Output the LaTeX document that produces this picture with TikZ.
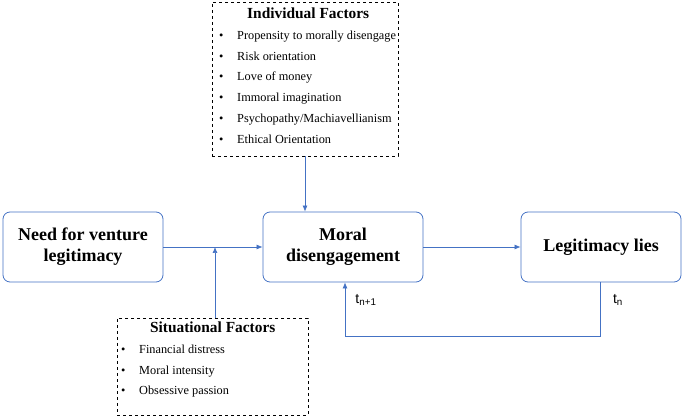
\documentclass[tikz,border=0pt]{standalone}
\usepackage{fontspec}
\setmainfont{Liberation Serif}
\newfontfamily\tfont{Liberation Sans}
\usetikzlibrary{arrows.meta}
\definecolor{bl}{RGB}{68,114,196}
\newcommand{\itm}{\makebox[18pt][l]{\textbullet}}
\begin{document}
\begin{tikzpicture}[x=1pt,y=-1pt,
  mbox/.style={draw=bl,rounded corners=7pt,minimum width=160pt,minimum height=70pt,align=center,font=\fontsize{18}{21}\selectfont\bfseries,line width=0.8pt},
  fbox/.style={draw,dashed,align=left,font=\fontsize{12.3}{20.7}\selectfont,inner sep=4pt},
  arr/.style={draw=bl,line width=0.7pt,-{Latex[length=6pt,width=5pt]}}]
\useasboundingbox (0,0) rectangle (685,419);
\node[mbox] (need) at (83,247) {Need for venture\\legitimacy};
\node[mbox] (moral) at (343,247) {Moral\\disengagement};
\node[mbox] (lies) at (601,247) {Legitimacy lies};
\node[draw,dashed,minimum width=186pt,minimum height=154pt] (ind) at (305,79) {};
\node[anchor=north west,fbox,draw=none] at (215,4) {\makebox[178pt]{\fontsize{15.4}{17}\selectfont\bfseries Individual Factors}\\
\itm Propensity to morally disengage\\
\itm Risk orientation\\
\itm Love of money\\
\itm Immoral imagination\\
\itm Psychopathy/Machiavellianism\\
\itm Ethical Orientation};
\node[draw,dashed,minimum width=191pt,minimum height=97pt] (sit) at (212.5,366.5) {};
\node[anchor=north west,fbox,draw=none] at (117,318) {\makebox[183pt]{\fontsize{15.4}{17}\selectfont\bfseries Situational Factors}\\
\itm Financial distress\\
\itm Moral intensity\\
\itm Obsessive passion};
\draw[arr] (ind.south) -- (ind.south |- moral.north);
\draw[arr] (need.east) -- (moral.west);
\draw[arr] (sit.north -| 215,0) -- (215,247);
\draw[arr] (moral.east) -- (lies.east -| lies.west);
\coordinate (c1) at (600,336);
\coordinate (c2) at (345,336);
\draw[arr] (lies.south -| c1) -- (c1) -- (c2) -- (moral.south -| c2);
\node[font=\tfont\fontsize{14}{16}\selectfont] (tn) at (618,300) {t\textsubscript{n}};
\node[font=\tfont\fontsize{14}{16}\selectfont] (tn1) at (366,300) {t\textsubscript{n+1}};
\end{tikzpicture}
\end{document}
